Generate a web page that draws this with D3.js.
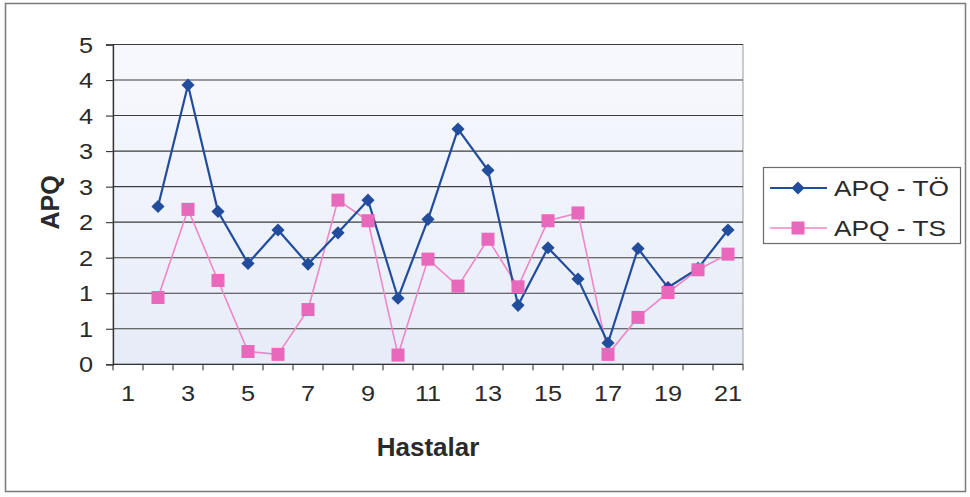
<!DOCTYPE html>
<html>
<head>
<meta charset="utf-8">
<script src="https://cdn.jsdelivr.net/npm/d3@7"></script>
<style>
  html, body { margin: 0; padding: 0; background: #fdfdfe; }
  svg { display: block; font-family: "Liberation Sans", Arial, sans-serif; }
</style>
</head>
<body>
<svg id="chart" width="970" height="497"></svg>
<script>
// Patients 1..21 (patient 1 has no measurement)
const categories = d3.range(1, 22);
const apqTO = [null, 2.22, 3.93, 2.15, 1.42, 1.89, 1.41, 1.85, 2.31, 0.93, 2.04, 3.31, 2.73, 0.83, 1.64, 1.20, 0.30, 1.63, 1.08, 1.35, 1.89];
const apqTS = [null, 0.94, 2.18, 1.18, 0.18, 0.14, 0.77, 2.31, 2.02, 0.13, 1.48, 1.10, 1.76, 1.09, 2.02, 2.13, 0.14, 0.66, 1.01, 1.33, 1.55];
const seriesNames = ["APQ - TÖ", "APQ - TS"];
const yTickValues = [0, 0.5, 1, 1.5, 2, 2.5, 3, 3.5, 4, 4.5];
const yTickLabels = ["0", "1", "1", "2", "2", "3", "3", "4", "4", "5"];
const xTickLabels = ["1", "3", "5", "7", "9", "11", "13", "15", "17", "19", "21"];

const svg = d3.select("#chart");
const plot = { left: 113, right: 743, top: 44.5, bottom: 364.3 };
const textColor = "#2a2a2a";

// text helper: slightly widened glyphs
function label(g, tx, ty, str, opts) {
  return g.append("text")
    .attr("transform", `translate(${tx},${ty}) scale(${opts.sx || 1},1)`)
    .attr("text-anchor", opts.anchor || "start")
    .attr("font-size", opts.size)
    .attr("font-weight", opts.weight || "normal")
    .attr("fill", textColor)
    .text(str);
}

// outer frame
svg.append("rect")
  .attr("x", 5.5).attr("y", 3.5).attr("width", 960).attr("height", 488)
  .attr("fill", "#ffffff").attr("stroke", "#7a7a7a").attr("stroke-width", 1.5);

const defs = svg.append("defs");
const grad = defs.append("linearGradient").attr("id", "plotFill")
  .attr("x1", 0).attr("y1", 0).attr("x2", 0).attr("y2", 1);
grad.append("stop").attr("offset", "0%").attr("stop-color", "#f8f9fe");
grad.append("stop").attr("offset", "100%").attr("stop-color", "#e6ecf8");

const x = d3.scaleBand().domain(categories).range([plot.left, plot.right]);
const y = d3.scaleLinear().domain([0, 4.5]).range([plot.bottom, plot.top]);

// plot area
svg.append("rect")
  .attr("x", plot.left).attr("y", plot.top)
  .attr("width", plot.right - plot.left).attr("height", plot.bottom - plot.top)
  .attr("fill", "url(#plotFill)").attr("stroke", "#9a9a9a").attr("stroke-width", 1);

// horizontal gridlines
svg.append("g").selectAll("line")
  .data(yTickValues.filter(v => v > 0))
  .join("line")
  .attr("x1", plot.left).attr("x2", plot.right)
  .attr("y1", d => y(d)).attr("y2", d => y(d))
  .attr("stroke", "#3c3c3c").attr("stroke-width", 1.1);

// y axis line and ticks
const yAxis = d3.axisLeft(y)
  .tickValues(yTickValues)
  .tickSize(7)
  .tickFormat("");
const gy = svg.append("g").attr("transform", `translate(${plot.left},0)`).call(yAxis);
gy.select(".domain").attr("stroke", "#333").attr("stroke-width", 1.3);
gy.selectAll(".tick line").attr("stroke", "#333").attr("stroke-width", 1.1);
const gyl = svg.append("g");
yTickValues.forEach((v, i) => {
  label(gyl, 93, y(v) + 8, yTickLabels[i], { size: 22, sx: 1.15, anchor: "end" });
});

// x axis: ticks on category boundaries, labels on odd patients
const boundaries = categories.map(c => x(c)).concat([plot.right]);
const gx = svg.append("g");
gx.append("line")
  .attr("x1", plot.left).attr("x2", plot.right)
  .attr("y1", plot.bottom).attr("y2", plot.bottom)
  .attr("stroke", "#333").attr("stroke-width", 1.3);
gx.selectAll("line.tick")
  .data(boundaries)
  .join("line").attr("class", "tick")
  .attr("x1", d => d).attr("x2", d => d)
  .attr("y1", plot.bottom).attr("y2", plot.bottom + 6)
  .attr("stroke", "#333").attr("stroke-width", 1.1);
xTickLabels.forEach(t => {
  label(gx, x(+t) + x.bandwidth() / 2, 401, t, { size: 22, sx: 1.15, anchor: "middle" });
});

// axis titles
label(svg, (plot.left + plot.right) / 2, 456, "Hastalar", { size: 25, weight: "bold", sx: 1.04, anchor: "middle" });
svg.append("text")
  .attr("transform", `translate(59,${(plot.top + plot.bottom) / 2 - 2}) rotate(-90)`)
  .attr("text-anchor", "middle")
  .attr("font-size", 25).attr("font-weight", "bold").attr("fill", textColor)
  .text("APQ");

const cx = c => x(c) + x.bandwidth() / 2;
const line = d3.line()
  .defined(d => d.v !== null)
  .x(d => cx(d.c))
  .y(d => y(d.v));

const toPts = arr => categories.map((c, i) => ({ c, v: arr[i] }));
const tsPts = toPts(apqTS);
const toPtsTO = toPts(apqTO);

const blue = "#224d9c";
const pinkLine = "#ef86c8";
const pinkMarker = "#e868bb";

// TS series (drawn first, under TÖ)
svg.append("path").datum(tsPts)
  .attr("d", line).attr("fill", "none")
  .attr("stroke", pinkLine).attr("stroke-width", 1.6);
// TÖ series line
svg.append("path").datum(toPtsTO)
  .attr("d", line).attr("fill", "none")
  .attr("stroke", blue).attr("stroke-width", 2.2);

const diamond = d3.symbol().type(d3.symbolDiamond2).size(110);
const square = d3.symbol().type(d3.symbolSquare).size(170);

svg.append("g").selectAll("path")
  .data(toPtsTO.filter(d => d.v !== null))
  .join("path")
  .attr("transform", d => `translate(${cx(d.c)},${y(d.v)})`)
  .attr("d", diamond).attr("fill", blue);

svg.append("g").selectAll("path")
  .data(tsPts.filter(d => d.v !== null))
  .join("path")
  .attr("transform", d => `translate(${cx(d.c)},${y(d.v)})`)
  .attr("d", square).attr("fill", pinkMarker);

// legend
const legend = svg.append("g");
legend.append("rect")
  .attr("x", 763.5).attr("y", 167.5).attr("width", 197).attr("height", 76)
  .attr("fill", "#ffffff").attr("stroke", "#6a6a6a").attr("stroke-width", 1.2);
const legendRows = [
  { name: seriesNames[0], color: blue, lw: 2.2, sym: diamond, mcol: blue, y: 188 },
  { name: seriesNames[1], color: pinkLine, lw: 1.6, sym: square, mcol: pinkMarker, y: 228 }
];
legendRows.forEach(r => {
  legend.append("line")
    .attr("x1", 770).attr("x2", 827).attr("y1", r.y).attr("y2", r.y)
    .attr("stroke", r.color).attr("stroke-width", r.lw);
  legend.append("path")
    .attr("transform", `translate(798,${r.y})`)
    .attr("d", r.sym).attr("fill", r.mcol);
  label(legend, 834, r.y + 8, r.name, { size: 22.5, sx: 1.17 });
});
</script>
</body>
</html>
